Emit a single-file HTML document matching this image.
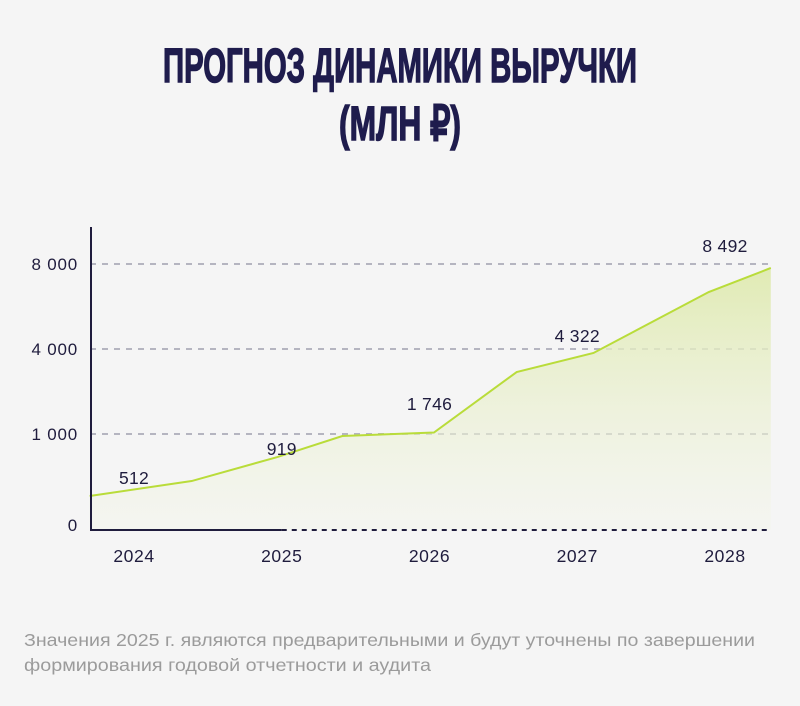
<!DOCTYPE html>
<html><head><meta charset="utf-8"><style>
html,body{margin:0;padding:0;background:#f5f5f5;}
svg{display:block;font-family:"Liberation Sans",sans-serif;}
</style></head><body>
<svg id="chart" width="800" height="706" viewBox="0 0 800 706">
<defs><linearGradient id="fill" x1="0" y1="0" x2="0" y2="1">
<stop offset="0" stop-color="#dfeab0" stop-opacity="0.95"/><stop offset="1" stop-color="#f3f5ea" stop-opacity="0.4"/></linearGradient></defs>
<g fill="#1f1c4d" stroke="#1f1c4d" stroke-width="1.5" font-family="'Liberation Sans Narrow','Liberation Sans',sans-serif" font-weight="bold" font-size="48" text-anchor="middle">
<text x="400" y="82" textLength="474" lengthAdjust="spacingAndGlyphs">ПРОГНОЗ ДИНАМИКИ ВЫРУЧКИ</text>
<text x="400" y="140" textLength="122" lengthAdjust="spacingAndGlyphs">(МЛН ₽)</text>
</g>
<g id="grid"></g><g id="area"></g><g id="axes"></g><g id="labels"></g>
<g fill="#9b9b9b" font-size="17.5">
<text x="24" y="646" textLength="731" lengthAdjust="spacingAndGlyphs">Значения 2025 г. являются предварительными и будут уточнены по завершении</text>
<text x="24" y="671" textLength="407" lengthAdjust="spacingAndGlyphs">формирования годовой отчетности и аудита</text>
</g>
</svg>
<script>
const years=[2024,2025,2026,2027,2028];
const yTicks=[0,1000,4000,8000];
const yTickLabels=["0","1 000","4 000","8 000"];
const labelValues=[512,919,1746,4322,8492];
const labelText=["512","919","1 746","4 322","8 492"];
const lineT=[2023.70,2024.39,2024.97,2025.41,2026.03,2026.59,2027.11,2027.89,2028.31];
const lineV=[354,510,760,979,1052,3188,3859,6682,7812];
const labelY=[484,455,410,342,252];
const NS="http://www.w3.org/2000/svg";
const tickPix=[530,434,349,264];
function xs(t){return 134+(t-2024)*147.75;}
function ys(v){for(let i=0;i<yTicks.length-1;i++){if(v<=yTicks[i+1]||i===yTicks.length-2){const f=(v-yTicks[i])/(yTicks[i+1]-yTicks[i]);return tickPix[i]+f*(tickPix[i+1]-tickPix[i]);}}}
function mk(tag,attrs,parent){const e=document.createElementNS(NS,tag);for(const k in attrs)e.setAttribute(k,attrs[k]);document.getElementById(parent).appendChild(e);return e;}
yTicks.forEach((v,i)=>{
 if(v>0){const l=mk('line',{x1:90,x2:770,y1:ys(v),y2:ys(v),stroke:'#b5b5c0','stroke-width':2,'stroke-dasharray':'6 6'},'grid');
 
 }
 const t=mk('text',{x:78,y:(v===0?ys(v)-5:ys(v))+6,'text-anchor':'end','font-size':17,'letter-spacing':0.8,fill:'#1f1c3d'},'axes');t.textContent=yTickLabels[i];
 
 
});
const pts=lineT.map((t,i)=>[xs(t),ys(lineV[i])]);
const a=mk('path',{d:'M'+pts.map(p=>p.join(',')).join('L')+'L'+pts[pts.length-1][0]+',530L'+pts[0][0]+',530Z',fill:'url(#fill)'},'area');


const ln=mk('polyline',{points:pts.map(p=>p.join(',')).join(' '),fill:'none',stroke:'#b9dc3a','stroke-width':2},'area');


const ya=mk('line',{x1:91,x2:91,y1:227,y2:531,stroke:'#1f1c3d','stroke-width':2},'axes');


const xa=mk('line',{x1:90,x2:xs(2025),y1:530,y2:530,stroke:'#1f1c3d','stroke-width':2},'axes');


const xd=mk('line',{x1:xs(2025),x2:767,y1:530,y2:530,stroke:'#1f1c3d','stroke-width':2,'stroke-dasharray':'5 5'},'axes');


years.forEach((yr,i)=>{
 const t=mk('text',{x:xs(yr),y:562,'text-anchor':'middle','font-size':17.5,'letter-spacing':0.6,fill:'#1f1c3d'},'axes');t.textContent=yr;
 
 
 const v=mk('text',{x:xs(yr),y:labelY[i],'text-anchor':'middle','font-size':17.5,'letter-spacing':0.3,fill:'#1f1c3d'},'labels');v.textContent=labelText[i];
 
 
});
</script>
</body></html>
